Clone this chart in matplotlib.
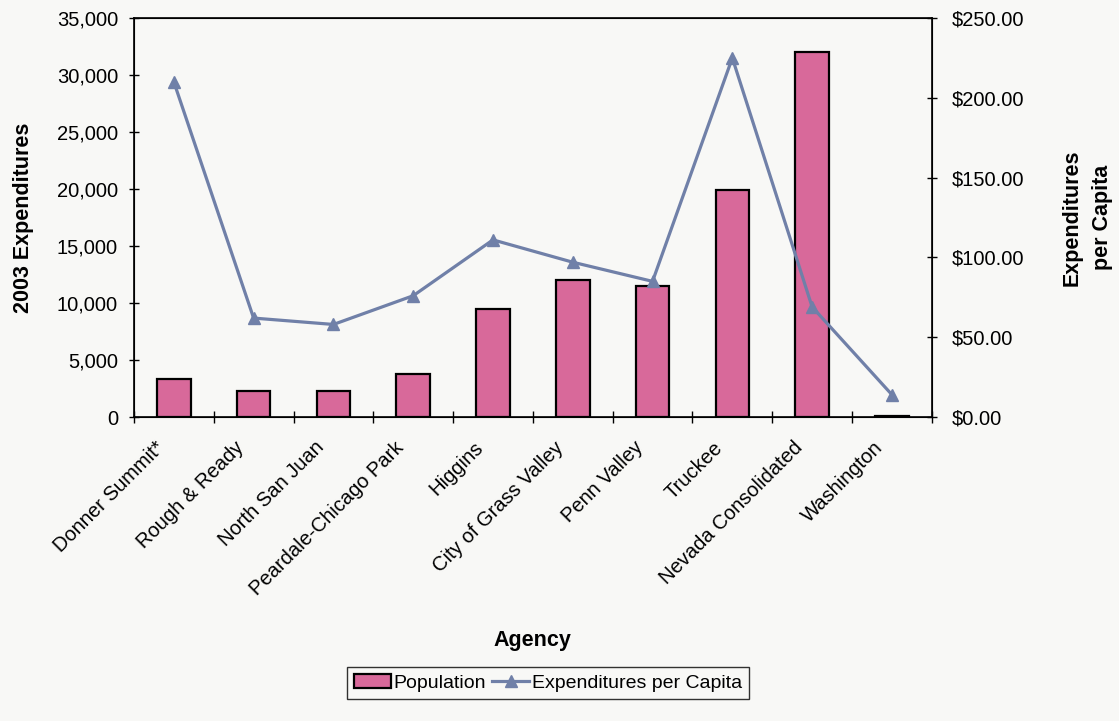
import matplotlib
matplotlib.use("Agg")
import matplotlib.pyplot as plt
from matplotlib.ticker import FuncFormatter, MultipleLocator
from matplotlib.transforms import ScaledTranslation
import numpy as np

plt.rcParams['font.family'] = ['Liberation Sans', 'DejaVu Sans']

agencies = ["Donner Summit*", "Rough & Ready", "North San Juan", "Peardale-Chicago Park",
            "Higgins", "City of Grass Valley", "Penn Valley", "Truckee",
            "Nevada Consolidated", "Washington"]
population = [3300, 2300, 2300, 3800, 9500, 12000, 11500, 19900, 32000, 60]
per_capita = [210, 62, 58, 76, 111, 97, 85, 225, 69, 14]

bar_color = "#d8699a"
line_color = "#7080a8"
bg = "#f8f8f6"

fig = plt.figure(figsize=(11.19, 7.21), dpi=100)
fig.patch.set_facecolor(bg)
ax = fig.add_axes([0.1197, 0.4216, 0.713, 0.5534])
ax.set_facecolor(bg)
x = np.arange(len(agencies))
bars = ax.bar(x, population, width=0.42, color=bar_color, edgecolor="black",
              linewidth=1.6, label="Population", zorder=2)
ax.set_xlim(-0.5, len(agencies) - 0.5)
ax.set_ylim(0, 35000)
ax.yaxis.set_major_locator(MultipleLocator(5000))
ax.yaxis.set_major_formatter(FuncFormatter(lambda v, p: f"{int(v):,}"))
ax.set_xticks(x)
ax.set_xticklabels(agencies, rotation=45, ha="right", rotation_mode="anchor", fontsize=14.5)
ax.tick_params(axis="x", length=0, pad=15)
off = ScaledTranslation(-19 / 100, 0, fig.dpi_scale_trans)
for lab in ax.get_xticklabels():
    lab.set_transform(lab.get_transform() + off)
ax.set_xticks(np.arange(-0.5, len(agencies) + 0.5, 1), minor=True)
ax.tick_params(axis="x", which="minor", length=8, direction="inout", width=1)
ax.tick_params(axis="y", labelsize=14.5, direction="inout", length=7, width=1, pad=8)
for s in ["left", "right", "top", "bottom"]:
    ax.spines[s].set_linewidth(1.2)
ax.set_ylabel("2003 Expenditures", fontsize=15.5, fontweight="bold", labelpad=16)
ax.set_xlabel("Agency", fontsize=15.5, fontweight="bold")
ax.xaxis.set_label_coords(0.5, (417 - 630) / 399)

ax2 = ax.twinx()
line, = ax2.plot(x, per_capita, color=line_color, linewidth=2.3, marker="^",
                 markersize=8, markerfacecolor=line_color, label="Expenditures per Capita", zorder=3)
ax2.set_ylim(0, 250)
ax2.yaxis.set_major_locator(MultipleLocator(50))
ax2.yaxis.set_major_formatter(FuncFormatter(lambda v, p: f"${v:,.2f}"))
ax2.tick_params(axis="y", labelsize=14.5, direction="inout", length=7, width=1, pad=11)
ax2.set_ylabel("Expenditures\nper Capita", fontsize=15.5, fontweight="bold", labelpad=27,
               rotation=90, linespacing=1.55)

leg = fig.legend([bars, line], ["Population", "Expenditures per Capita"], loc="center",
                 bbox_to_anchor=(548 / 1119, 1 - 683 / 721), ncol=2, fontsize=14,
                 frameon=True, fancybox=False, edgecolor="black", handlelength=1.9,
                 columnspacing=0.3, handletextpad=0.15, borderpad=0.35, borderaxespad=0)
leg.get_frame().set_linewidth(1.0)
leg.get_frame().set_facecolor(bg)

fig.savefig("out.png", dpi=100, facecolor=fig.get_facecolor())
